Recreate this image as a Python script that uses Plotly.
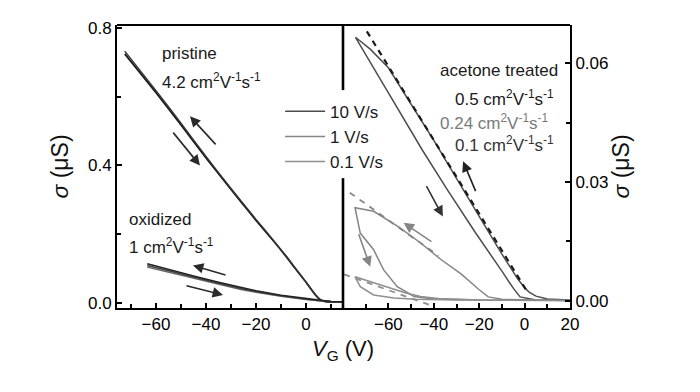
import plotly.graph_objects as go

# ---------------- data (sigma in uS vs gate voltage V_G in V) ----------------
# Left panel: pristine and oxidized devices
pristine_vg = [-72.5, -60, -50, -40, -30, -26, -20, -13, -8, -4, 0, 2, 4, 5.5, 7, 9, 15]
pristine_fwd = [0.725, 0.612, 0.518, 0.422, 0.33, 0.294, 0.24, 0.18, 0.135, 0.097, 0.06, 0.04, 0.021, 0.01, 0.005, 0.003, 0.003]
pristine_bwd = [0.733, 0.618, 0.523, 0.426, 0.333, 0.297, 0.243, 0.182, 0.137, 0.099, 0.061, 0.041, 0.022, 0.011, 0.005, 0.003, 0.003]

oxidized_vg = [-63.5, -55, -45, -35, -26, -20, -10, 0, 5, 10, 15]
oxidized_10 = [0.114, 0.097, 0.078, 0.060, 0.044, 0.035, 0.022, 0.012, 0.007, 0.004, 0.003]
oxidized_1 = [0.109, 0.093, 0.075, 0.057, 0.042, 0.033, 0.021, 0.011, 0.006, 0.004, 0.003]
oxidized_01 = [0.104, 0.089, 0.071, 0.054, 0.039, 0.031, 0.019, 0.010, 0.006, 0.004, 0.003]

# Right panel: acetone treated, three sweep rates (upper = backward, lower = forward)
r10_up_vg = [20, 10, 5, 2, 0, -3, -6, -10, -20, -30, -40, -50, -60, -68, -74.5]
r10_up = [0.0002, 0.0005, 0.0012, 0.0022, 0.0033, 0.0055, 0.0082, 0.0118, 0.0213, 0.031, 0.0405, 0.0496, 0.0588, 0.0635, 0.0665]
r10_down_vg = [-74.5, -60, -45, -34, -22, -10, -5, -2, 5, 20]
r10_down = [0.0665, 0.0525, 0.038, 0.028, 0.0175, 0.0075, 0.0032, 0.001, 0.0002, 0.0001]

r1_up_vg = [20, 0, -10, -16, -20, -28, -37, -45.8, -55, -66.5, -74.7]
r1_up = [0.0001, 0.0002, 0.0004, 0.0010, 0.0028, 0.0068, 0.0105, 0.0146, 0.0185, 0.0226, 0.0235]
r1_down_vg = [-74.7, -72.4, -66.5, -62.1, -56.1, -48.7, -40, -20, 20]
r1_down = [0.0235, 0.0171, 0.0129, 0.0078, 0.0036, 0.0011, 0.0005, 0.0002, 0.0001]

r01_up_vg = [20, -20, -38, -45.8, -52, -59, -67, -74.7]
r01_up = [0.0001, 0.0002, 0.0006, 0.0011, 0.0019, 0.0032, 0.0047, 0.0061]
r01_down_vg = [-74.7, -72.4, -66.5, -57.6, -48, -30, 20]
r01_down = [0.0061, 0.0036, 0.0015, 0.0007, 0.0004, 0.0002, 0.0001]

# linear mobility fits
fit05_vg = [-69.5, 1.5]
fit05 = [0.068, 0.002]
fit024_vg = [-77, -38]
fit024 = [0.0273, 0.0114]
fit01_vg = [-79.5, -41]
fit01 = [0.0067, -0.0012]

rate_labels = ["10 V/s", "1 V/s", "0.1 V/s"]

# ---------------- styling ----------------
FONT = "Arial, Liberation Sans, sans-serif"
C10 = "#4d4d4d"
C1 = "#858585"
C01 = "#8f8f8f"
DARK = "#1a1a1a"
TXT = "#111111"

fig = go.Figure()

# left panel
fig.add_trace(go.Scatter(x=pristine_vg, y=pristine_fwd, mode="lines", line=dict(color=DARK, width=1.7, shape="spline", smoothing=0.6),
                         showlegend=False, xaxis="x", yaxis="y"))
fig.add_trace(go.Scatter(x=pristine_vg, y=pristine_bwd, mode="lines", line=dict(color="#333333", width=1.4, shape="spline", smoothing=0.6),
                         showlegend=False, xaxis="x", yaxis="y"))
for ys, c in [(oxidized_01, "#666666"), (oxidized_1, "#444444"), (oxidized_10, "#222222")]:
    fig.add_trace(go.Scatter(x=oxidized_vg, y=ys, mode="lines", line=dict(color=c, width=1.5),
                             showlegend=False, xaxis="x", yaxis="y"))

# right panel loops (legend carriers)
loops = [
    (r10_up_vg + r10_down_vg, r10_up + r10_down, C10, rate_labels[0]),
    (r1_up_vg + r1_down_vg, r1_up + r1_down, C1, rate_labels[1]),
    (r01_up_vg + r01_down_vg, r01_up + r01_down, C01, rate_labels[2]),
]
for xs, ys, c, name in loops:
    fig.add_trace(go.Scatter(x=xs, y=ys, mode="lines", name=name, line=dict(color=c, width=1.5),
                             xaxis="x2", yaxis="y2"))

fig.add_trace(go.Scatter(x=fit05_vg, y=fit05, mode="lines", line=dict(color=DARK, width=2.2, dash="6px,5px"),
                         showlegend=False, xaxis="x2", yaxis="y2"))
fig.add_trace(go.Scatter(x=fit024_vg, y=fit024, mode="lines", line=dict(color=C1, width=1.8, dash="6px,6px"),
                         showlegend=False, xaxis="x2", yaxis="y2"))
fig.add_trace(go.Scatter(x=fit01_vg, y=fit01, mode="lines", line=dict(color=C01, width=1.8, dash="6px,6px"),
                         showlegend=False, xaxis="x2", yaxis="y2"))

# ---------------- axes ----------------
SPLIT = 0.4989
minor_style = dict(ticks="inside", ticklen=4, tickwidth=2, tickcolor="black")
axis_common = dict(showline=True, linecolor="black", linewidth=2, ticks="inside", ticklen=5, tickwidth=2,
                   tickcolor="black", showgrid=False, zeroline=False,
                   tickfont=dict(family=FONT, size=17, color="black"))

fig.update_layout(
    xaxis=dict(domain=[0, SPLIT], range=[-75.6, 14.8], tickvals=[-60, -40, -20, 0], anchor="y",
               minor=dict(tickvals=[-70, -50, -30, -10, 10], **minor_style), **axis_common),
    yaxis=dict(domain=[0, 1], range=[-0.015, 0.809], tickvals=[0, 0.4, 0.8], tickformat=".1f", anchor="x",
               minor=dict(tickvals=[0.2, 0.6], **minor_style),
               title=dict(text="<i>σ</i> (μS)", font=dict(family=FONT, size=23, color=TXT), standoff=13),
               **axis_common),
    xaxis2=dict(domain=[SPLIT, 1], range=[-80, 20], tickvals=[-60, -40, -20, 0, 20], anchor="y2",
                minor=dict(tickvals=[-70, -50, -30, -10, 10], **minor_style), **axis_common),
    yaxis2=dict(domain=[0, 1], range=[-0.0018, 0.0696], tickvals=[0, 0.03, 0.06], tickformat=".2f",
                anchor="x2", side="right",
                minor=dict(tickvals=[0.015, 0.045], **minor_style),
                title=dict(text="<i>σ</i> (μS)", font=dict(family=FONT, size=23, color=TXT), standoff=5),
                **axis_common),
)

# frame: top line and divider with gap for the legend
shapes = [
    dict(type="line", xref="paper", yref="paper", x0=0, x1=1, y0=1, y1=1, line=dict(color="black", width=2)),
    dict(type="line", xref="paper", yref="paper", x0=SPLIT, x1=SPLIT, y0=1, y1=0.770,
         line=dict(color="black", width=2.6)),
    dict(type="line", xref="paper", yref="paper", x0=SPLIT, x1=SPLIT, y0=0.459, y1=0,
         line=dict(color="black", width=2.6)),
]

annotations = []
unit = " cm<sup>2</sup>V<sup>-1</sup>s<sup>-1</sup>"
for x, y, t, ax, col in [
    (-58.4, 0.725, "pristine", "x", "#1a1a1a"),
    (-58.4, 0.645, "4.2" + unit, "x", "#1a1a1a"),
    (-71.6, 0.243, "oxidized", "x", "#1a1a1a"),
    (-71.6, 0.166, "1" + unit, "x", "#1a1a1a"),
    (-38.2, 0.0582, "acetone treated", "x2", "#1a1a1a"),
    (-31.6, 0.0511, "0.5" + unit, "x2", "#1a1a1a"),
    (-38.2, 0.0452, "0.24" + unit, "x2", "#7a7a7a"),
    (-31.6, 0.0397, "0.1" + unit, "x2", "#333333"),
]:
    yr = "y" if ax == "x" else "y2"
    annotations.append(dict(x=x, y=y, xref=ax, yref=yr, text=t, showarrow=False, xanchor="left",
                            yanchor="middle", font=dict(family=FONT, size=17, color=col)))

# sweep direction arrows: (head_x, head_y, tail_x, tail_y, axis, color)
arrows = [
    (-46.4, 0.543, -35.6, 0.457, "x", "#2a2a2a"),
    (-42.4, 0.400, -53.6, 0.500, "x", "#2a2a2a"),
    (-45.2, 0.109, -31.6, 0.080, "x", "#2a2a2a"),
    (-33.2, 0.023, -48.4, 0.051, "x", "#2a2a2a"),
    (-27.1, 0.0352, -21.3, 0.0273, "x2", "#222222"),
    (-36.0, 0.0213, -43.6, 0.0293, "x2", "#333333"),
    (-53.3, 0.0197, -40.4, 0.0147, "x2", C1),
    (-68.0, 0.0086, -73.3, 0.0172, "x2", C1),
]
for hx, hy, tx, ty, ax, col in arrows:
    yr = "y" if ax == "x" else "y2"
    annotations.append(dict(x=hx, y=hy, ax=tx, ay=ty, xref=ax, yref=yr, axref=ax, ayref=yr, text="",
                            showarrow=True, arrowhead=2, arrowsize=1.3, arrowwidth=1.6, arrowcolor=col))

# x-axis title centred under both panels
annotations.append(dict(x=0.498, y=-0.148, xref="paper", yref="paper", text="<i>V</i><sub>G</sub> (V)",
                        showarrow=False, xanchor="center", yanchor="middle",
                        font=dict(family=FONT, size=22, color=TXT)))

# the page body adds an 8 px offset, so the figure is 8 px smaller than the window
fig.update_layout(
    width=692, height=384,
    margin=dict(l=109, r=130, t=17, b=84),
    paper_bgcolor="white", plot_bgcolor="white",
    shapes=shapes, annotations=annotations,
    legend=dict(x=0.36, y=0.757, xanchor="left", yanchor="top", bgcolor="rgba(0,0,0,0)",
                font=dict(family=FONT, size=17, color="#1a1a1a"), itemwidth=40, tracegroupgap=0),
    font=dict(family=FONT),
)

fig.write_html("out.html")
